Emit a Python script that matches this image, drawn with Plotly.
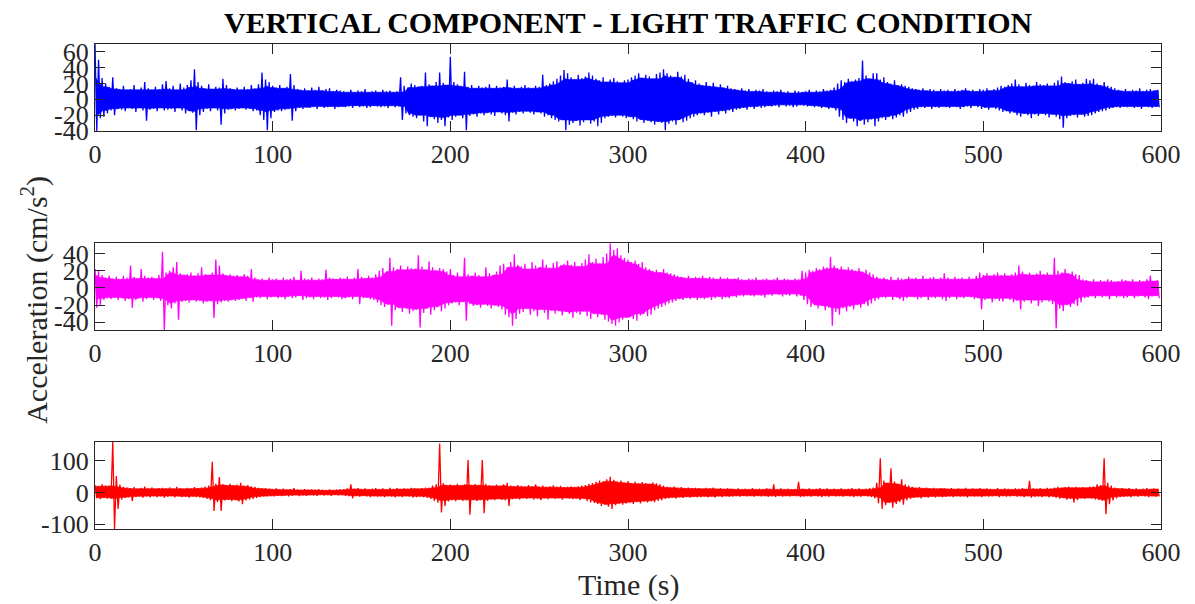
import numpy as np
import plotly.graph_objects as go

# Peak envelope of each record, one value per 2-second window (cm/s^2)
BIN_S = 2.0

vert_top_hi = [
    70, 50, 27, 20, 16, 28, 14, 13, 17, 12,
    13, 18, 12, 15, 22, 14, 12, 16, 13, 19,
    23, 14, 17, 12, 20, 15, 18, 24, 38, 22,
    17, 14, 19, 13, 16, 15, 26, 18, 14, 13,
    15, 12, 16, 13, 18, 14, 19, 34, 25, 22,
    17, 15, 18, 14, 16, 32, 18, 13, 12, 14,
    11, 15, 12, 16, 11, 13, 14, 10, 12, 11,
    10, 9, 12, 9, 11, 10, 13, 9, 10, 11,
    9, 12, 10, 11, 9, 10, 28, 17, 15, 20,
    18, 16, 17, 34, 19, 17, 22, 34, 21, 18,
    54, 22, 19, 17, 35, 16, 18, 14, 17, 15,
    16, 19, 14, 17, 15, 16, 25, 15, 17, 14,
    16, 18, 15, 14, 17, 16, 31, 18, 20, 23,
    26, 30, 37, 33, 28, 25, 31, 27, 29, 34,
    30, 26, 24, 28, 22, 25, 27, 23, 21, 24,
    25, 28, 30, 33, 27, 31, 29, 26, 32, 34,
    38, 33, 30, 28, 35, 29, 31, 26, 22, 24,
    20, 18, 22, 17, 21, 16, 19, 15, 17, 14,
    13, 12, 14, 11, 13, 10, 12, 11, 13, 10,
    9, 11, 10, 12, 9, 10, 8, 11, 10, 9,
    10, 12, 9, 11, 10, 13, 11, 12, 15, 20,
    24, 22, 26, 23, 25, 27, 49, 30, 26, 33,
    33, 25, 28, 22, 20, 24, 18, 19, 17, 16,
    14, 13, 12, 14, 11, 13, 12, 10, 13, 11,
    12, 10, 13, 11, 12, 14, 11, 12, 10, 13,
    12, 14, 11, 13, 15, 17, 16, 18, 20, 25,
    19, 16, 21, 18, 17, 22, 19, 18, 20, 17,
    21, 24, 29, 22, 20, 23, 25, 19, 21, 26,
    24, 26, 20, 18, 22, 17, 16, 14, 12, 11,
    13, 10, 12, 11, 14, 10, 12, 13, 11, 12,
]
vert_top_lo = [
    -40, -24, -22, -18, -14, -20, -12, -13, -15, -11,
    -12, -16, -11, -14, -27, -13, -12, -15, -11, -14,
    -13, -12, -16, -11, -14, -18, -15, -17, -39, -20,
    -16, -12, -15, -11, -14, -32, -18, -13, -12, -14,
    -12, -11, -13, -12, -15, -14, -20, -26, -39, -24,
    -16, -14, -15, -13, -12, -27, -15, -11, -12, -10,
    -11, -10, -12, -9, -11, -10, -9, -12, -10, -9,
    -10, -9, -11, -8, -10, -9, -11, -10, -8, -9,
    -10, -9, -11, -8, -10, -9, -26, -18, -20, -22,
    -24, -20, -28, -34, -22, -25, -30, -26, -34, -23,
    -26, -22, -20, -24, -39, -21, -19, -22, -18, -20,
    -17, -19, -21, -16, -18, -20, -28, -17, -19, -16,
    -18, -15, -17, -19, -16, -18, -22, -20, -24, -26,
    -28, -26, -39, -32, -30, -27, -33, -29, -26, -31,
    -28, -34, -30, -24, -22, -21, -23, -20, -22, -24,
    -22, -25, -28, -26, -30, -27, -29, -32, -28, -30,
    -39, -31, -28, -32, -26, -29, -27, -24, -22, -20,
    -18, -20, -17, -22, -16, -19, -15, -18, -14, -16,
    -13, -12, -11, -13, -10, -12, -9, -11, -10, -8,
    -9, -8, -10, -7, -9, -8, -10, -9, -7, -8,
    -9, -8, -10, -9, -11, -10, -12, -11, -14, -22,
    -26, -30, -24, -28, -34, -27, -32, -29, -25, -34,
    -28, -24, -26, -22, -25, -23, -20, -22, -18, -16,
    -13, -12, -10, -11, -9, -12, -10, -11, -9, -10,
    -11, -9, -10, -12, -10, -9, -11, -8, -10, -12,
    -11, -13, -10, -12, -14, -16, -15, -18, -17, -20,
    -22, -18, -20, -24, -19, -21, -18, -20, -23, -19,
    -22, -25, -36, -24, -21, -20, -23, -19, -22, -21,
    -20, -18, -16, -15, -14, -12, -11, -10, -11, -9,
    -10, -9, -11, -10, -12, -9, -10, -11, -9, -10,
]

vert_mid_hi = [
    22, 20, 15, 12, 14, 11, 13, 10, 14, 12,
    26, 13, 11, 22, 14, 12, 13, 11, 15, 42,
    18, 20, 24, 30, 17, 15, 16, 18, 14, 17,
    24, 16, 15, 18, 33, 26, 17, 15, 16, 14,
    15, 13, 16, 14, 22, 12, 10, 11, 9, 12,
    10, 11, 9, 12, 10, 11, 13, 9, 20, 11,
    10, 12, 9, 11, 10, 21, 12, 11, 10, 12,
    11, 13, 10, 12, 22, 13, 11, 14, 12, 16,
    20, 23, 19, 35, 24, 22, 26, 21, 25, 23,
    22, 38, 25, 21, 31, 24, 20, 23, 22, 19,
    22, 15, 18, 13, 35, 16, 14, 18, 15, 13,
    24, 17, 15, 19, 26, 28, 24, 30, 39, 27,
    25, 28, 22, 30, 26, 24, 33, 27, 23, 29,
    31, 26, 28, 32, 27, 30, 25, 29, 33, 39,
    30, 34, 28, 36, 40, 52, 44, 46, 38, 35,
    33, 30, 32, 28, 30, 24, 22, 20, 21, 18,
    22, 18, 17, 16, 14, 13, 12, 14, 11, 13,
    12, 14, 11, 13, 12, 10, 13, 11, 12, 10,
    11, 12, 10, 9, 11, 10, 12, 9, 10, 11,
    9, 10, 12, 9, 11, 10, 9, 11, 10, 20,
    18, 21, 20, 23, 22, 25, 24, 36, 26, 23,
    25, 21, 24, 22, 20, 23, 19, 21, 18, 16,
    13, 11, 12, 10, 13, 9, 12, 11, 10, 13,
    11, 12, 10, 14, 11, 12, 13, 10, 12, 17,
    12, 10, 13, 11, 12, 10, 13, 11, 14, 18,
    15, 17, 14, 16, 18, 15, 17, 14, 16, 18,
    26, 19, 16, 18, 15, 17, 20, 16, 18, 15,
    35, 20, 18, 22, 17, 19, 16, 15, 10, 9,
    8, 10, 7, 9, 8, 10, 9, 7, 8, 10,
    9, 8, 10, 7, 9, 8, 10, 14, 8, 9,
]
vert_mid_lo = [
    -23, -20, -14, -12, -13, -11, -14, -12, -15, -13,
    -23, -14, -12, -16, -13, -11, -14, -12, -15, -49,
    -20, -24, -18, -37, -16, -15, -17, -14, -16, -15,
    -18, -16, -15, -35, -19, -17, -15, -16, -14, -15,
    -14, -13, -15, -12, -16, -11, -12, -10, -13, -11,
    -10, -12, -11, -13, -10, -12, -11, -9, -14, -12,
    -11, -13, -10, -12, -11, -14, -12, -10, -11, -13,
    -12, -11, -13, -10, -19, -12, -11, -13, -14, -17,
    -20, -22, -19, -44, -26, -23, -28, -24, -30, -27,
    -25, -46, -29, -24, -31, -26, -22, -27, -24, -20,
    -18, -17, -20, -16, -38, -19, -21, -20, -23, -19,
    -21, -24, -20, -22, -25, -31, -34, -44, -36, -30,
    -28, -24, -31, -27, -33, -25, -29, -37, -26, -30,
    -27, -32, -28, -30, -35, -29, -31, -27, -33, -36,
    -30, -34, -31, -37, -39, -42, -44, -40, -37, -35,
    -34, -36, -38, -32, -30, -33, -31, -26, -24, -22,
    -20, -18, -17, -15, -13, -14, -12, -13, -11, -14,
    -12, -13, -11, -14, -12, -10, -13, -11, -12, -10,
    -11, -9, -10, -8, -9, -10, -8, -9, -11, -8,
    -9, -7, -8, -10, -8, -9, -7, -10, -9, -14,
    -19, -22, -20, -24, -21, -26, -23, -44, -28, -31,
    -24, -27, -22, -25, -20, -23, -19, -21, -18, -15,
    -13, -11, -12, -10, -14, -11, -13, -15, -12, -10,
    -11, -13, -12, -10, -14, -11, -12, -10, -13, -15,
    -12, -10, -13, -11, -12, -10, -11, -13, -12, -25,
    -14, -12, -17, -13, -15, -16, -12, -14, -17, -15,
    -25, -16, -14, -18, -15, -21, -17, -14, -16, -19,
    -47, -24, -27, -20, -22, -19, -21, -17, -12, -11,
    -10, -12, -9, -11, -10, -13, -9, -11, -10, -12,
    -11, -9, -12, -10, -9, -11, -13, -10, -9, -12,
]

vert_bot_hi = [
    24, 20, 26, 22, 21, 160, 52, 25, 18, 16,
    14, 17, 12, 15, 19, 13, 16, 12, 14, 15,
    13, 16, 12, 18, 14, 12, 15, 13, 17, 14,
    16, 19, 22, 97, 28, 49, 26, 24, 28, 22,
    25, 31, 21, 24, 20, 18, 15, 13, 14, 12,
    11, 13, 10, 12, 9, 11, 14, 10, 8, 11,
    9, 10, 8, 11, 9, 7, 10, 8, 9, 10,
    11, 13, 26, 12, 14, 11, 13, 10, 12, 14,
    11, 13, 10, 15, 12, 14, 11, 13, 12, 15,
    13, 12, 14, 16, 15, 22, 26, 155, 30, 24,
    25, 22, 28, 24, 26, 103, 24, 27, 23, 103,
    28, 24, 21, 25, 22, 26, 31, 22, 19, 24,
    21, 18, 24, 20, 26, 19, 22, 17, 20, 23,
    19, 21, 16, 18, 20, 17, 19, 22, 24, 28,
    30, 34, 38, 36, 42, 50, 40, 35, 38, 32,
    36, 30, 34, 28, 33, 30, 27, 32, 29, 26,
    22, 18, 16, 19, 15, 17, 14, 16, 13, 15,
    14, 12, 15, 13, 16, 12, 14, 11, 13, 12,
    11, 13, 10, 12, 11, 14, 10, 12, 11, 13,
    12, 26, 10, 13, 11, 12, 10, 11, 34, 12,
    11, 13, 10, 12, 14, 11, 13, 10, 12, 11,
    13, 10, 12, 14, 11, 13, 10, 12, 14, 16,
    31, 108, 38, 30, 77, 35, 28, 42, 26, 22,
    18, 15, 17, 14, 16, 13, 15, 12, 14, 13,
    12, 14, 11, 13, 12, 15, 11, 13, 12, 14,
    11, 13, 12, 10, 14, 11, 13, 12, 10, 13,
    12, 14, 11, 37, 13, 12, 14, 11, 15, 13,
    16, 18, 15, 17, 19, 16, 18, 15, 17, 16,
    18, 20, 26, 24, 108, 31, 22, 16, 13, 14,
    12, 14, 11, 13, 10, 12, 14, 11, 13, 12,
]
vert_bot_lo = [
    -18, -21, -16, -19, -20, -115, -52, -22, -17, -15,
    -26, -14, -12, -16, -13, -15, -11, -14, -12, -16,
    -13, -11, -15, -12, -14, -13, -16, -12, -14, -15,
    -17, -20, -24, -58, -30, -58, -25, -22, -27, -24,
    -28, -37, -25, -22, -20, -17, -14, -13, -12, -11,
    -12, -10, -11, -9, -12, -10, -8, -11, -9, -10,
    -8, -9, -10, -7, -9, -8, -10, -7, -9, -8,
    -10, -12, -18, -11, -13, -10, -12, -14, -11, -13,
    -12, -14, -11, -13, -15, -12, -14, -11, -13, -16,
    -14, -12, -15, -17, -20, -26, -32, -63, -42, -28,
    -24, -27, -22, -26, -25, -70, -23, -26, -24, -65,
    -26, -22, -24, -20, -23, -25, -42, -21, -19, -22,
    -18, -20, -17, -22, -19, -24, -18, -21, -17, -20,
    -18, -22, -17, -19, -21, -18, -24, -20, -26, -31,
    -33, -36, -42, -38, -45, -52, -40, -35, -38, -34,
    -32, -36, -30, -34, -28, -31, -27, -30, -26, -24,
    -20, -18, -16, -19, -15, -17, -14, -16, -13, -15,
    -14, -12, -15, -13, -16, -12, -14, -11, -13, -12,
    -11, -13, -10, -12, -11, -13, -10, -12, -11, -13,
    -12, -14, -10, -13, -11, -12, -10, -11, -14, -12,
    -11, -13, -10, -12, -14, -11, -13, -10, -12, -11,
    -13, -10, -12, -14, -11, -13, -10, -12, -14, -18,
    -34, -52, -40, -31, -48, -36, -30, -38, -24, -20,
    -17, -15, -18, -14, -16, -13, -15, -12, -14, -13,
    -12, -14, -11, -13, -12, -15, -11, -13, -12, -14,
    -11, -13, -12, -10, -14, -11, -13, -12, -10, -13,
    -12, -14, -11, -16, -13, -12, -14, -11, -15, -13,
    -16, -19, -17, -22, -20, -31, -24, -18, -20, -17,
    -19, -22, -24, -26, -68, -37, -25, -18, -14, -13,
    -12, -14, -11, -13, -10, -12, -14, -11, -13, -12,
]

x_ticks = [0, 100, 200, 300, 400, 500, 600]
y_ticks_top = [-40, -20, 0, 20, 40, 60]
y_ticks_mid = [-40, -20, 0, 20, 40]
y_ticks_bot = [-100, 0, 100]

SERIF = "Liberation Serif, Times New Roman, serif"
AXIS_COLOR = "#262626"
CORE_WINDOWS = 5


def record(hi, lo):
    """Interleave window maxima and minima into one oscillating trace."""
    y = np.empty(2 * len(hi))
    y[0::2] = hi
    y[1::2] = lo
    t = np.arange(y.size) * BIN_S / 2.0
    return t, y


def core_band(hi, lo, n=CORE_WINDOWS):
    """Dense body of the record: the level reached by n neighbouring windows."""
    r = n // 2
    h = np.pad(np.asarray(hi, float), r, mode="edge")
    l = np.pad(np.asarray(lo, float), r, mode="edge")
    m = len(hi)
    top = np.min([h[j:j + m] for j in range(n)], axis=0)
    bot = np.max([l[j:j + m] for j in range(n)], axis=0)
    tc = np.arange(m) * BIN_S + BIN_S / 4.0
    return np.concatenate([tc, tc[::-1]]), np.concatenate([top, bot[::-1]])


def label(v):
    return str(v).replace("\u2212", "-")


panels = [
    (vert_top_hi, vert_top_lo, "#0000ff", y_ticks_top, [0.8207, 1.0]),
    (vert_mid_hi, vert_mid_lo, "#ff00ff", y_ticks_mid, [0.4101, 0.5893]),
    (vert_bot_hi, vert_bot_lo, "#ff0000", y_ticks_bot, [0.0, 0.1796]),
]

fig = go.Figure()
layout = {}
for k, (hi, lo, color, yt, dom) in enumerate(panels, start=1):
    sfx = "" if k == 1 else str(k)
    bx, by = core_band(hi, lo)
    fig.add_trace(go.Scatter(
        x=bx, y=by, mode="lines", fill="toself", fillcolor=color,
        line=dict(color=color, width=0.6, simplify=False),
        xaxis="x" + sfx, yaxis="y" + sfx,
        showlegend=False, hoverinfo="skip",
    ))
    t, y = record(hi, lo)
    fig.add_trace(go.Scatter(
        x=t, y=y, mode="lines",
        line=dict(color=color, width=1.3, simplify=False),
        xaxis="x" + sfx, yaxis="y" + sfx,
        showlegend=False, hoverinfo="skip",
    ))
    common = dict(
        showline=True, linecolor=AXIS_COLOR, linewidth=1.2,
        mirror="ticks", ticks="inside", ticklen=10, tickwidth=1.2,
        tickcolor=AXIS_COLOR, showgrid=False, zeroline=False,
        tickfont=dict(family=SERIF, size=26, color="#262626"),
    )
    layout["xaxis" + sfx] = dict(
        common, domain=[0, 1], anchor="y" + sfx,
        range=[0, BIN_S * len(hi)],
        tickvals=x_ticks, ticktext=[label(v) for v in x_ticks],
    )
    layout["yaxis" + sfx] = dict(
        common, domain=dom, anchor="x" + sfx,
        range=[min(lo), max(hi)],
        tickvals=yt, ticktext=[label(v) for v in yt],
    )

fig.update_layout(
    **layout,
    width=1195, height=604,
    margin=dict(l=95, r=34, t=44, b=75),
    paper_bgcolor="white", plot_bgcolor="white",
    font=dict(family=SERIF, color="#262626"),
    annotations=[
        dict(text="<b>VERTICAL COMPONENT - LIGHT TRAFFIC CONDITION</b>",
             xref="paper", yref="paper", x=0.5, y=1.0, yshift=22,
             xanchor="center", yanchor="middle", showarrow=False,
             font=dict(family=SERIF, size=30, color="black")),
        dict(text="Acceleration (cm/s<sup>2</sup>)",
             xref="paper", yref="paper", x=-0.0563, y=0.4725,
             xanchor="center", yanchor="middle", textangle=-90,
             showarrow=False,
             font=dict(family=SERIF, size=30, color="#262626")),
        dict(text="Time (s)",
             xref="paper", yref="paper", x=0.5, y=-0.1148,
             xanchor="center", yanchor="middle", showarrow=False,
             font=dict(family=SERIF, size=30, color="#262626")),
    ],
)

fig.write_html("out.html")
